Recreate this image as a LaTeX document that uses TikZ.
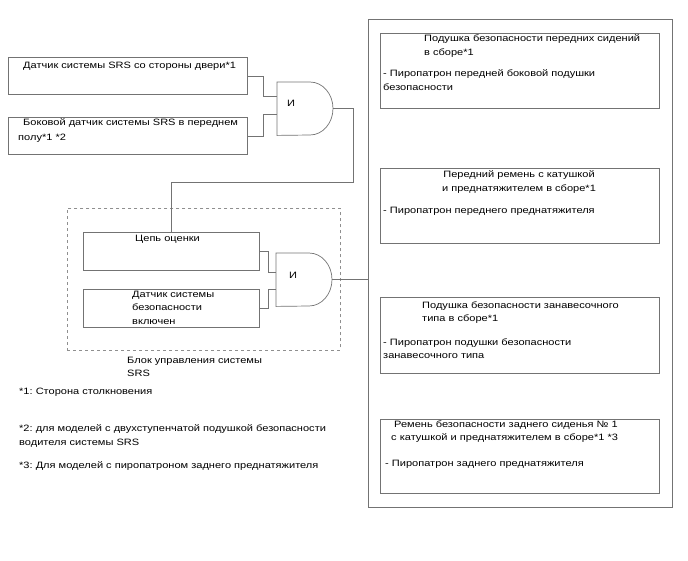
\documentclass[tikz,border=0pt]{standalone}
\usepackage{fontspec}
\setmainfont{Liberation Sans}[FakeStretch=1.2]
\usetikzlibrary{calc}
\definecolor{linegray}{RGB}{115,115,115}
\frenchspacing
\tikzset{
  box/.style={draw=linegray, line width=0.7pt, anchor=north west, inner sep=0pt},
  txt/.style={anchor=north west, inner sep=0pt, align=left, font=\fontsize{9.2}{13.5}\selectfont},
  wire/.style={draw=linegray, line width=0.7pt},
  gate/.style={anchor=north west, inner sep=0pt, minimum width=56pt, minimum height=53pt},
}
\begin{document}
\begin{tikzpicture}[x=1pt, y=1pt]
  \useasboundingbox (0,0) rectangle (688,-560);

  % Датчики слева
  \node[box, minimum width=239pt, minimum height=37pt] (doorsens) at (8,-57) {};
  \node[txt] (doortxt) at (23,-61.5) {Датчик системы SRS со стороны двери*1};
  \node[box, minimum width=239pt, minimum height=37pt] (floorsens) at (8,-117) {};
  \node[txt] (floortxt) at (23,-118.5) {Боковой датчик системы SRS в переднем};
  \node[txt] (floortxtb) at (18,-133.5) {полу*1 *2};

  % Первый элемент И
  \node[gate] (andone) at (277,-82) {};
  \draw[wire] (andone.north west) -- ++(33,0) arc[start angle=90, end angle=-90, x radius=23, y radius=26.5] -- (andone.south west) -- cycle;
  \node[txt] (andonetxt) at ([xshift=10pt, yshift=9pt]andone.west) {И};
  \coordinate (andonein) at ([yshift=12.5pt]andone.west);
  \coordinate (andoneinb) at ([yshift=-5.5pt]andone.west);
  \draw[wire] (doorsens.east) -- ++(16,0) |- (andonein);
  \draw[wire] (floorsens.east) -- ++(16,0) |- (andoneinb);

  % Блок управления
  \node[box, draw=linegray!80, dashed, minimum width=273pt, minimum height=142pt] (ecu) at (67,-208) {};
  \node[txt] (ecutxt) at (127,-356.5) {Блок управления системы\\SRS};
  \node[box, minimum width=176pt, minimum height=38pt] (judge) at (83,-232) {};
  \node[txt] (judgetxt) at (135,-234.5) {Цепь оценки};
  \node[box, minimum width=176pt, minimum height=38pt] (safing) at (83,-289) {};
  \node[txt] (safingtxt) at (132,-290.5) {Датчик системы\\безопасности\\включен};

  % Второй элемент И
  \node[gate] (andtwo) at (276,-253) {};
  \draw[wire] (andtwo.north west) -- ++(33,0) arc[start angle=90, end angle=-90, x radius=23, y radius=26.5] -- (andtwo.south west) -- cycle;
  \node[txt] (andtwotxt) at ([xshift=13pt, yshift=7.5pt]andtwo.west) {И};
  \coordinate (andtwoin) at ([yshift=7.5pt]andtwo.west);
  \coordinate (andtwoinb) at ([yshift=-9.5pt]andtwo.west);
  \draw[wire] (judge.east) -- ++(9,0) |- (andtwoin);
  \draw[wire] (safing.east) -- ++(9,0) |- (andtwoinb);

  % Выход первого И на цепь оценки
  \coordinate (bend) at (353,-182);
  \draw[wire] (andone.east) -| (bend) -| (judge.north);

  % Исполнительные устройства
  \node[box, minimum width=304pt, minimum height=488pt] (outbox) at (368,-19) {};
  \draw[wire] (andtwo.east) -- (andtwo.east -| outbox.west);

  \node[box, minimum width=279pt, minimum height=75pt] (frontbag) at (380,-33) {};
  \node[txt] (frontbagtxt) at (424,-34.5) {Подушка безопасности передних сидений\\в сборе*1};
  \node[txt] (frontbagitem) at (383,-69.5) {- Пиропатрон передней боковой подушки\\безопасности};

  \node[box, minimum width=279pt, minimum height=75pt] (frontbelt) at (380,-168) {};
  \node[txt, anchor=north, align=center] (frontbelttxt) at (519,-170.5) {Передний ремень с катушкой\\и преднатяжителем в сборе*1};
  \node[txt] (frontbeltitem) at (383,-206.5) {- Пиропатрон переднего преднатяжителя};

  \node[box, minimum width=279pt, minimum height=76pt] (curtain) at (380,-297) {};
  \node[txt] (curtaintxt) at (422,-301.5) {Подушка безопасности занавесочного\\типа в сборе*1};
  \node[txt] (curtainitem) at (383,-338.5) {- Пиропатрон подушки безопасности\\занавесочного типа};

  \node[box, minimum width=279pt, minimum height=74pt] (rearbelt) at (380,-419) {};
  \node[txt] (rearbelttxt) at (394,-421) {Ремень безопасности заднего сиденья № 1};
  \node[txt] (rearbelttxtb) at (391,-433) {с катушкой и преднатяжителем в сборе*1 *3};
  \node[txt] (rearbeltitem) at (385,-459.5) {- Пиропатрон заднего преднатяжителя};

  % Примечания
  \node[txt] (noteone) at (19,-387.5) {*1: Сторона столкновения};
  \node[txt] (notetwo) at (19,-424.5) {*2: для моделей с двухступенчатой подушкой безопасности\\водителя системы SRS};
  \node[txt] (notethree) at (19,-461.5) {*3: Для моделей с пиропатроном заднего преднатяжителя};
\end{tikzpicture}
\end{document}
